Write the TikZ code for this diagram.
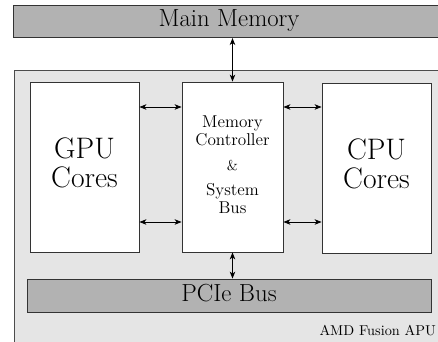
\documentclass[tikz,border=0pt]{standalone}
\usetikzlibrary{arrows.meta}
% text is set at its design size and then enlarged
\newcommand\bigtext[3]{\scalebox{1.43}{\fontsize{#1}{#2}\selectfont\begin{tabular}{@{}c@{}}#3\end{tabular}}}
\begin{document}
\begin{tikzpicture}[x=1pt,y=-1pt,
  unit/.style={draw=black!80,fill=white,line width=0.8pt,inner sep=0pt,align=center},
  bus/.style={draw=black!80,fill=black!30,line width=0.8pt,inner sep=0pt},
  link/.style={{Stealth[length=7pt,width=5.5pt,inset=2pt]}-{Stealth[length=7pt,width=5.5pt,inset=2pt]},line width=0.9pt}]
\useasboundingbox (0,0) rectangle (438,341);
\clip (0,0) rectangle (438,341);
% chip outline
\filldraw[draw=black!70,fill=black!10,line width=0.8pt] (14,70) rectangle (450,360);
% memory and PCIe buses
\node[bus,minimum width=440pt,minimum height=32pt,anchor=north west] (mem) at (13,5) {};
\node[inner sep=0pt] (memlabel) at (229,21) {\bigtext{17.28}{20}{Main Memory}};
\node[bus,minimum width=404pt,minimum height=33pt] (pcie) at (229,295.5) {};
\node[inner sep=0pt] (pcielabel) at (229,296) {\bigtext{17.28}{20}{PCIe Bus}};
% processing units
\node[unit,minimum width=109pt,minimum height=170pt] (gpu) at (84.5,167)
  {\bigtext{20.74}{19.6}{GPU\\Cores}};
\node[unit,minimum width=101pt,minimum height=170pt] (mc) at (232.5,167)
  {\bigtext{12}{12.6}{Memory\\Controller\\[5pt]{\fontsize{10}{12}\selectfont\&}\\[5pt]System\\Bus}};
\node[unit,minimum width=109pt,minimum height=170pt] (cpu) at (376.5,168)
  {\bigtext{20.74}{19.6}{CPU\\Cores}};
% connections
\coordinate (memlink) at (mc.north |- 0,38);
\draw[link] (memlink) -- (mc.north);
\draw[link] (mc.south) -- (mc.south |- pcie.north);
\draw[link] (gpu.east |- 0,107) -- (mc.west |- 0,107);
\draw[link] (gpu.east |- 0,222) -- (mc.west |- 0,222);
\draw[link] (mc.east |- 0,107) -- (cpu.west |- 0,107);
\draw[link] (mc.east |- 0,222) -- (cpu.west |- 0,222);
\node[anchor=base east,inner sep=0pt] (apu) at (436,335)
  {\scalebox{1.43}{\fontsize{10}{12}\selectfont AMD Fusion APU}};
\end{tikzpicture}
\end{document}
